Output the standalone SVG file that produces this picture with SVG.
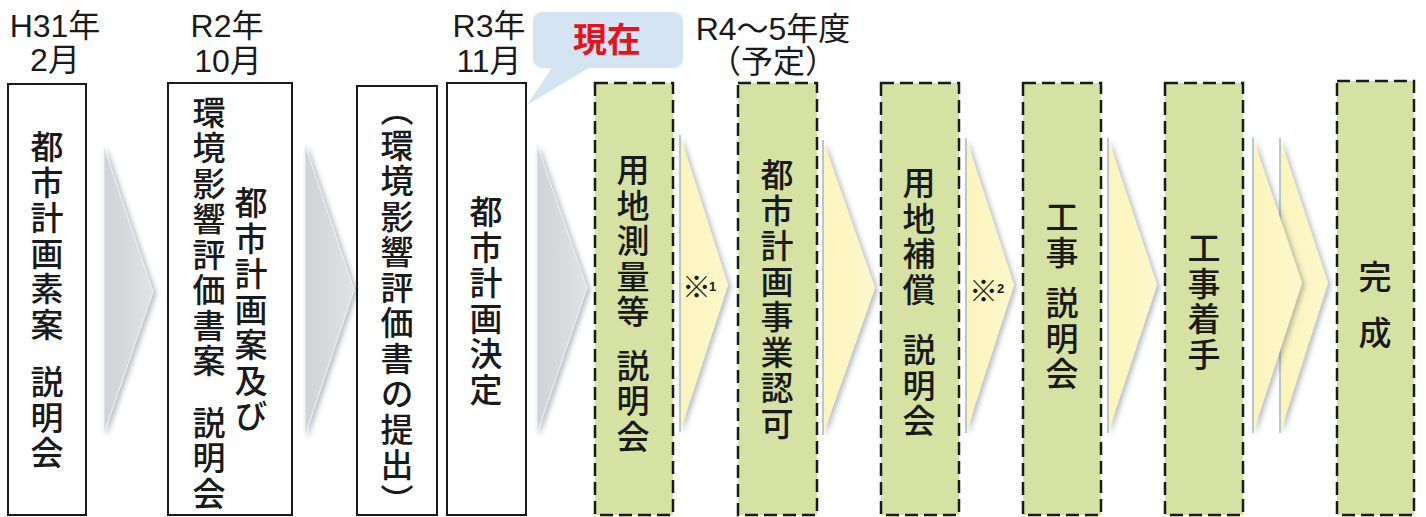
<svg xmlns="http://www.w3.org/2000/svg" width="1426" height="517" viewBox="0 0 1426 517">
<style>
.hd{font-family:"Liberation Sans","Noto Sans CJK JP",sans-serif;font-size:32px;fill:#1a1a1a;text-anchor:middle}
.v{font-family:"Noto Sans CJK JP",sans-serif;font-size:33px;font-weight:500;fill:#1a1a1a;writing-mode:vertical-rl;letter-spacing:2.5px}
.solid{fill:#ffffff;stroke:#1a1a1a;stroke-width:2}
.dash{fill:#d5e2a4;stroke:#1a1a1a;stroke-width:2.5;stroke-dasharray:13 6}
.ga{fill:url(#gg);filter:url(#sh);stroke:#eef0f2;stroke-width:1}
.ya{fill:url(#yg);filter:url(#sh)}
.yl{stroke:#8ea6c6;stroke-width:1.2;fill:none}
.note{font-family:"Noto Sans CJK JP",sans-serif;font-size:29px;font-weight:bold;fill:#1a1a1a}
.sup{font-family:"Liberation Sans",sans-serif;font-size:13px;font-weight:bold;fill:#1a1a1a}
</style>
<defs>
<linearGradient id="gg" x1="0" y1="0" x2="1" y2="0">
<stop offset="0" stop-color="#d0d3d7"/><stop offset="1" stop-color="#e0e2e4"/>
</linearGradient>
<linearGradient id="yg" x1="0" y1="0" x2="1" y2="0">
<stop offset="0" stop-color="#fbf4bc"/><stop offset="1" stop-color="#fdf8cc"/>
</linearGradient>
<filter id="sh" x="-30%" y="-10%" width="160%" height="120%">
<feDropShadow dx="3" dy="2" stdDeviation="2.5" flood-color="#556070" flood-opacity="0.4"/>
</filter>
</defs>
<rect width="1426" height="517" fill="#ffffff"/>

<g id="labels">
<text class="hd" x="55" y="37">H31年</text>
<text class="hd" x="55" y="71">2月</text>
<text class="hd" x="227" y="37">R2年</text>
<text class="hd" x="228" y="72">10月</text>
<text class="hd" x="489" y="37">R3年</text>
<text class="hd" x="489" y="72">11月</text>
<text class="hd" x="773" y="40">R4〜5年度</text>
<text class="hd" x="773" y="73">（予定）</text>
</g>

<g id="callout">
<rect x="533" y="12" width="150" height="56" rx="9" fill="#d5e4f3"/>
<polygon points="553,66 527,105 592,66" fill="#d5e4f3"/>
<text x="607" y="52" text-anchor="middle" style="font-family:'Noto Sans CJK JP',sans-serif;font-size:34px;font-weight:bold;fill:#e8121c">現在</text>
</g>

<g id="connectors">
<polygon class="ga" points="104,147 153,292 104,433"/>
<polygon class="ga" points="305,145 354,290 305,435"/>
<polygon class="ga" points="537,145 587,288 537,433"/>
<polygon class="ya" points="680,135 728,285 680,432"/>
<line class="yl" x1="680" y1="135" x2="680" y2="432"/>
<polygon class="ya" points="823,140 875,288 823,435"/>
<line class="yl" x1="823" y1="140" x2="823" y2="435"/>
<polygon class="ya" points="966,138 1014,285 966,433"/>
<line class="yl" x1="966" y1="138" x2="966" y2="433"/>
<polygon class="ya" points="1108,138 1157,285 1108,433"/>
<line class="yl" x1="1108" y1="138" x2="1108" y2="433"/>
<polygon class="ya" points="1280,138 1328,283 1280,433"/>
<line class="yl" x1="1280" y1="138" x2="1280" y2="433"/>
<polygon class="ya" points="1253,138 1302,283 1253,433"/>
<line class="yl" x1="1253" y1="138" x2="1253" y2="433"/>
<text class="note" x="682" y="298">※</text><text class="sup" x="709" y="291">1</text>
<text class="note" x="969" y="302">※</text><text class="sup" x="997" y="293">2</text>
</g>

<g id="n1">
<rect class="solid" x="8" y="84" width="78" height="431"/>
<text class="v" x="47" y="130">都市計画素案<tspan x="47" y="365">説明会</tspan></text>
</g>
<g id="n2">
<rect class="solid" x="168" y="83" width="124" height="432"/>
<text class="v"><tspan x="251" y="186">都市計画案及び</tspan><tspan x="209" y="95">環境影響評価書案</tspan><tspan x="209" y="405">説明会</tspan></text>
</g>
<g id="n3">
<rect class="solid" x="357" y="86" width="80" height="429"/>
<text class="v" x="397" y="93">（環境影響評価書の提出）</text>
</g>
<g id="n4">
<rect class="solid" x="447" y="83" width="79" height="432"/>
<text class="v" x="486" y="195">都市計画決定</text>
</g>
<g id="n5">
<rect class="dash" x="595" y="83" width="78" height="432"/>
<text class="v" x="633" y="153">用地測量等<tspan x="633" y="348">説明会</tspan></text>
</g>
<g id="n6">
<rect class="dash" x="738" y="83" width="79" height="432"/>
<text class="v" x="777" y="158">都市計画事業認可</text>
</g>
<g id="n7">
<rect class="dash" x="881" y="83" width="78" height="432"/>
<text class="v" x="919" y="166">用地補償<tspan x="919" y="333">説明会</tspan></text>
</g>
<g id="n8">
<rect class="dash" x="1023" y="83" width="78" height="432"/>
<text class="v" x="1062" y="200">工事<tspan x="1062" y="286">説明会</tspan></text>
</g>
<g id="n9">
<rect class="dash" x="1165" y="83" width="78" height="432"/>
<text class="v" x="1204" y="231">工事着手</text>
</g>
<g id="n10">
<rect class="dash" x="1337" y="81" width="77" height="434"/>
<text class="v" x="1375" y="260">完<tspan x="1375" y="315">成</tspan></text>
</g>
</svg>
